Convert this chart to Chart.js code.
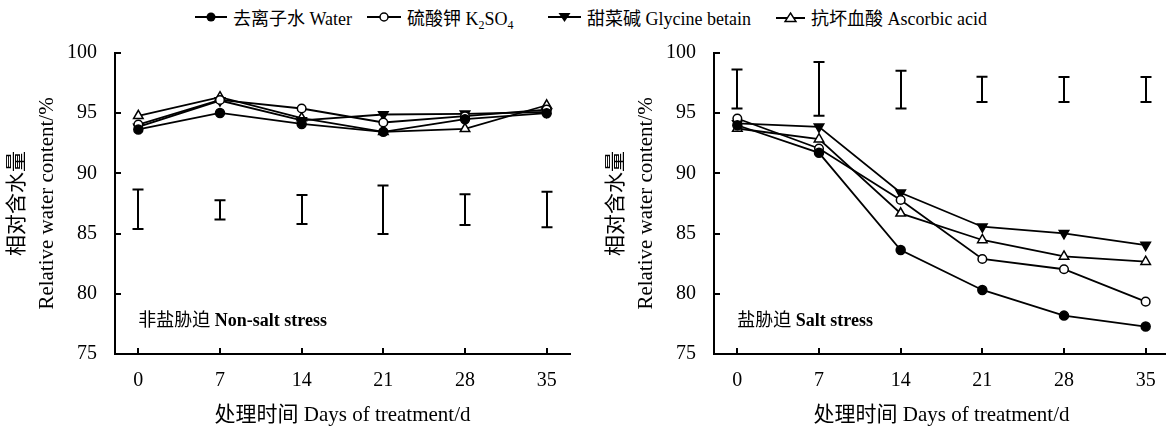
<!DOCTYPE html>
<html>
<head>
<meta charset="utf-8">
<script src="https://cdn.jsdelivr.net/npm/chart.js@4/dist/chart.umd.min.js"></script>
<style>
  html, body { margin: 0; padding: 0; background: #fff; width: 1166px; height: 430px; overflow: hidden; position: relative; }
  canvas { position: absolute; top: 0; }
  #c1 { left: 0; }
  #c2 { left: 599px; }
  .leg { position: absolute; top: 5px; height: 24px; line-height: 24px; font: 18px "Liberation Serif", "Noto Sans CJK SC"; color: #000; white-space: nowrap; display: flex; align-items: center; }
  .leg svg { margin-right: 6px; }
  .leg sub { font-size: 12px; vertical-align: -4px; line-height: 0; }
</style>
</head>
<body>
<div class="leg" style="left:195px"><svg width="32" height="14"><line x1="0" y1="7" x2="32" y2="7" stroke="#000" stroke-width="2"/><circle cx="16" cy="7" r="4.5" fill="#000"/></svg><span>去离子水 Water</span></div>
<div class="leg" style="left:367px"><svg width="34" height="14"><line x1="0" y1="7" x2="34" y2="7" stroke="#000" stroke-width="2"/><circle cx="17" cy="7" r="4" fill="#fff" stroke="#000" stroke-width="1.5"/></svg><span>硫酸钾 K<sub>2</sub>SO<sub>4</sub></span></div>
<div class="leg" style="left:548px"><svg width="33" height="14"><line x1="0" y1="7" x2="33" y2="7" stroke="#000" stroke-width="2"/><polygon points="10.5,3 22.5,3 16.5,12" fill="#000"/></svg><span>甜菜碱 Glycine betain</span></div>
<div class="leg" style="left:776px"><svg width="29" height="14"><line x1="0" y1="8" x2="29" y2="8" stroke="#000" stroke-width="2"/><polygon points="14.5,3 20,11.5 9,11.5" fill="#fff" stroke="#000" stroke-width="1.4"/></svg><span>抗坏血酸 Ascorbic acid</span></div>
<canvas id="c1" width="600" height="430"></canvas>
<canvas id="c2" width="600" height="430"></canvas>
<script>
// ---- data ----
const days = [0, 7, 14, 21, 28, 35];
const yTicks = [75, 80, 85, 90, 95, 100];
const seriesNames = ['去离子水 Water', '硫酸钾 K2SO4', '甜菜碱 Glycine betain', '抗坏血酸 Ascorbic acid'];

// Non-salt stress
const waterNS    = [93.65, 95.02, 94.11, 93.45, 94.50, 95.00];
const k2so4NS    = [94.06, 96.10, 95.39, 94.23, 94.75, 95.30];
const glycineNS  = [93.86, 96.05, 94.40, 94.89, 94.95, 95.10];
const ascorbicNS = [94.78, 96.33, 94.60, 93.45, 93.70, 95.66];
const errLowNS   = [85.38, 86.18, 85.80, 84.97, 85.71, 85.52];
const errHighNS  = [88.67, 87.78, 88.20, 89.00, 88.26, 88.47];

// Salt stress
const waterS    = [94.00, 91.71, 83.64, 80.32, 78.19, 77.28];
const k2so4S    = [94.56, 92.07, 87.79, 82.89, 82.04, 79.35];
const glycineS  = [94.15, 93.87, 88.39, 85.57, 85.02, 84.05];
const ascorbicS = [93.73, 92.84, 86.68, 84.47, 83.10, 82.67];
const errLowS   = [95.39, 94.78, 95.38, 95.94, 95.94, 95.94];
const errHighS  = [98.62, 99.25, 98.52, 98.03, 98.00, 98.00];

const FAM = '"Liberation Serif", "Noto Sans CJK SC"';

const extrasPlugin = {
  id: 'extras',
  afterDatasetsDraw(chart, args, opts) {
    const ctx = chart.ctx;
    const xs = chart.scales.x, ys = chart.scales.y;
    const ca = chart.chartArea;
    ctx.save();
    ctx.strokeStyle = '#000';
    ctx.lineWidth = 2;
    ctx.lineCap = 'butt';
    // inward ticks
    days.forEach(d => {
      const px = Math.round(xs.getPixelForValue(d));
      ctx.beginPath(); ctx.moveTo(px, ca.bottom); ctx.lineTo(px, ca.bottom - 6); ctx.stroke();
    });
    yTicks.forEach(v => {
      const py = Math.round(ys.getPixelForValue(v));
      ctx.beginPath(); ctx.moveTo(ca.left, py); ctx.lineTo(ca.left + 6, py); ctx.stroke();
    });
    // error bars
    const cap = 5.5;
    days.forEach((d, i) => {
      const px = Math.round(xs.getPixelForValue(d));
      const y1 = ys.getPixelForValue(opts.low[i]);
      const y2 = ys.getPixelForValue(opts.high[i]);
      ctx.beginPath();
      ctx.moveTo(px, y1); ctx.lineTo(px, y2);
      ctx.moveTo(px - cap, y1); ctx.lineTo(px + cap, y1);
      ctx.moveTo(px - cap, y2); ctx.lineTo(px + cap, y2);
      ctx.stroke();
    });
    // annotation
    const tx = xs.getPixelForValue(0);
    const ty = 321;
    ctx.fillStyle = '#000';
    ctx.textBaseline = 'middle';
    ctx.textAlign = 'left';
    ctx.font = '18px ' + FAM;
    ctx.fillText(opts.cn + ' ', tx, ty);
    const w = ctx.measureText(opts.cn + ' ').width;
    ctx.font = 'bold 18px ' + FAM;
    ctx.fillText(opts.en, tx + w, ty);
    ctx.restore();
  }
};

function mkDatasets(w, k, g, a) {
  const pts = arr => days.map((d, i) => ({ x: d, y: arr[i] }));
  const base = { borderColor: '#000', borderWidth: 1.8, pointBorderColor: '#000', pointBorderWidth: 1.5, tension: 0 };
  return [
    Object.assign({}, base, { label: seriesNames[0], data: pts(w), pointStyle: 'circle', pointRadius: 4.5, pointBackgroundColor: '#000' }),
    Object.assign({}, base, { label: seriesNames[1], data: pts(k), pointStyle: 'circle', pointRadius: 4.3, pointBackgroundColor: '#fff' }),
    Object.assign({}, base, { label: seriesNames[2], data: pts(g), pointStyle: 'triangle', pointRotation: 180, pointRadius: 5.5, pointBackgroundColor: '#000' }),
    Object.assign({}, base, { label: seriesNames[3], data: pts(a), pointStyle: 'triangle', pointRadius: 5.5, pointBackgroundColor: '#fff' })
  ];
}

function mkChart(id, datasets, low, high, cn, en) {
  return new Chart(document.getElementById(id), {
    type: 'line',
    data: { datasets },
    options: {
      responsive: false,
      animation: false,
      layout: { padding: { top: 53, left: 0, right: 30, bottom: 0 } },
      plugins: {
        legend: { display: false },
        tooltip: { enabled: false },
        extras: { low, high, cn, en }
      },
      scales: {
        x: {
          type: 'linear', min: -2, max: 37,
          afterBuildTicks: s => { s.ticks = days.map(v => ({ value: v })); },
          afterFit: s => { s.height = 76; },
          grid: { display: true, drawOnChartArea: false, drawTicks: false },
          border: { display: true, color: '#000', width: 2 },
          ticks: { color: '#000', padding: 15, font: { family: FAM, size: 20 }, maxRotation: 0 },
          title: { display: true, text: '处理时间 Days of treatment/d', color: '#000', font: { family: FAM, size: 21 }, padding: { top: 0, bottom: 2 } }
        },
        y: {
          type: 'linear', min: 75, max: 100,
          afterBuildTicks: s => { s.ticks = yTicks.map(v => ({ value: v })); },
          afterFit: s => { s.width = 115; },
          grid: { display: true, drawOnChartArea: false, drawTicks: false },
          border: { display: true, color: '#000', width: 2 },
          ticks: { color: '#000', padding: 18, font: { family: FAM, size: 20 } },
          title: { display: true, text: ['相对含水量', 'Relative water content/%'], color: '#000', font: { family: FAM, size: 21, lineHeight: '30px' }, padding: { top: 2, bottom: 0 } }
        }
      }
    },
    plugins: [extrasPlugin]
  });
}

mkChart('c1', mkDatasets(waterNS, k2so4NS, glycineNS, ascorbicNS), errLowNS, errHighNS, '非盐胁迫', 'Non-salt stress');
mkChart('c2', mkDatasets(waterS, k2so4S, glycineS, ascorbicS), errLowS, errHighS, '盐胁迫', 'Salt stress');
</script>
</body>
</html>
